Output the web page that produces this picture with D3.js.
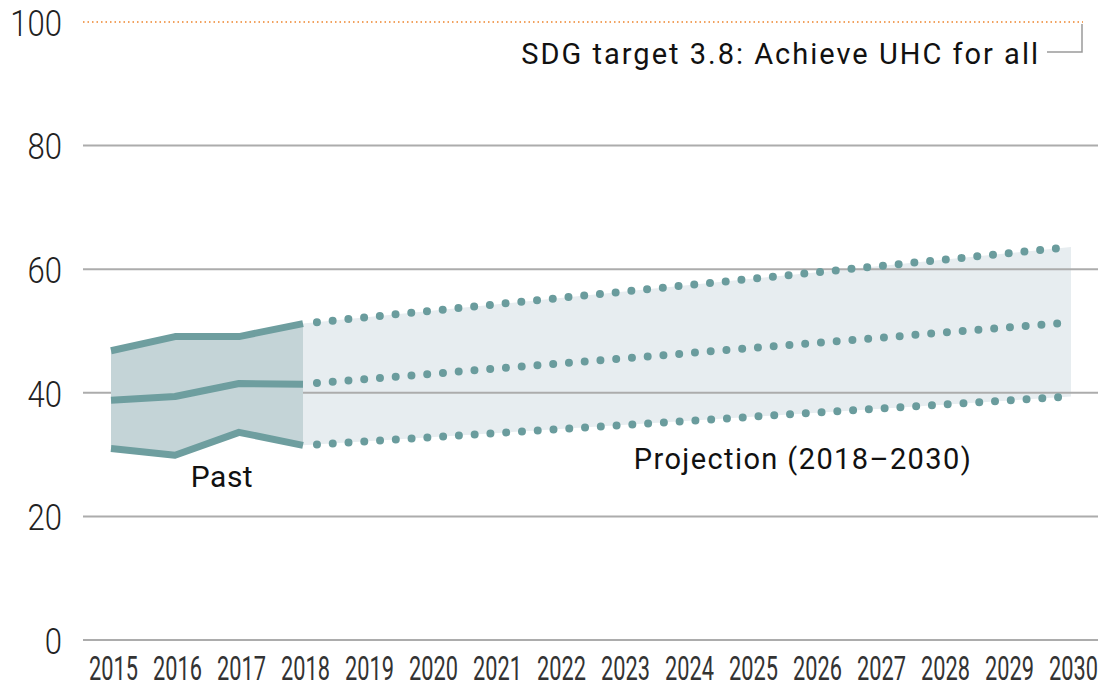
<!DOCTYPE html>
<html>
<head>
<meta charset="utf-8">
<script src="https://cdn.jsdelivr.net/npm/d3@7"></script>
<style>
  body { margin: 0; background: #fff; }
  svg { display: block; font-family: Roboto, "Noto Sans", sans-serif; }
</style>
</head>
<body>
<svg id="graph" width="1098" height="687"></svg>
<script>
// values
var years = [2015, 2016, 2017, 2018, 2019, 2020, 2021, 2022, 2023, 2024, 2025, 2026, 2027, 2028, 2029, 2030];
var yTicks = [0, 20, 40, 60, 80, 100];
var target = 100;

var pastYears = [2015, 2016, 2017, 2018];
var pastUpper = [46.8, 49.1, 49.1, 51.2];
var pastMid = [38.8, 39.4, 41.5, 41.4];
var pastLower = [31.0, 29.9, 33.6, 31.5];

var projYears = [2018, 2030];
var projUpper = [51.2, 63.6];
var projMid = [41.4, 51.4];
var projLower = [31.5, 39.4];

var svg = d3.select("#graph");

var x = d3.scaleLinear().domain([2015, 2030]).range([111, 1071]);
var y = d3.scaleLinear().domain([0, 100]).range([640, 22]);

// projection band (under the grid lines)
var proj = projYears.map(function(d, i) { return {yr: d, lo: projLower[i], hi: projUpper[i]}; });
svg.append("path")
  .datum(proj)
  .attr("d", d3.area()
    .x(function(d) { return x(d.yr); })
    .y0(function(d) { return y(d.lo); })
    .y1(function(d) { return y(d.hi); }))
  .attr("fill", "#e7edf0");

// grid lines
svg.append("g")
  .selectAll("line")
  .data(yTicks.filter(function(d) { return d !== target; }))
  .enter().append("line")
  .attr("x1", 83)
  .attr("x2", 1098)
  .attr("y1", function(d) { return y(d); })
  .attr("y2", function(d) { return y(d); })
  .attr("stroke", "#acacac")
  .attr("stroke-width", 2);

// target line
svg.append("line")
  .attr("x1", 83)
  .attr("x2", 1083)
  .attr("y1", y(target))
  .attr("y2", y(target))
  .attr("stroke", "#f2a25e")
  .attr("stroke-width", 2)
  .attr("stroke-dasharray", "1.5,3");

// bracket from the target line to its label
svg.append("path")
  .attr("d", "M" + 1082 + "," + (y(target) + 2) + "V" + 52 + "H" + 1047)
  .attr("fill", "none")
  .attr("stroke", "#9a9a9a")
  .attr("stroke-width", 1.5);

svg.append("text")
  .attr("x", 1040)
  .attr("y", 64)
  .attr("text-anchor", "end")
  .attr("font-size", "29px")
  .attr("letter-spacing", "2px")
  .attr("fill", "#111")
  .text("SDG target 3.8: Achieve UHC for all");

// past band
var past = pastYears.map(function(d, i) { return {yr: d, lo: pastLower[i], mid: pastMid[i], hi: pastUpper[i]}; });
svg.append("path")
  .datum(past)
  .attr("d", d3.area()
    .x(function(d) { return x(d.yr); })
    .y0(function(d) { return y(d.lo); })
    .y1(function(d) { return y(d.hi); }))
  .attr("fill", "#c4d4d7");

var teal = "#6e9e9f";
[pastUpper, pastMid, pastLower].forEach(function(s) {
  svg.append("path")
    .datum(s)
    .attr("d", d3.line()
      .x(function(d, i) { return x(pastYears[i]); })
      .y(function(d) { return y(d); }))
    .attr("fill", "none")
    .attr("stroke", teal)
    .attr("stroke-width", 7)
    .attr("stroke-linejoin", "round");
});

[projUpper, projMid, projLower].forEach(function(s) {
  svg.append("path")
    .datum(s)
    .attr("d", d3.line()
      .x(function(d, i) { return x(projYears[i]); })
      .y(function(d) { return y(d); }))
    .attr("fill", "none")
    .attr("stroke", "#6a9c9d")
    .attr("stroke-width", 8)
    .attr("stroke-linecap", "round")
    .attr("stroke-dasharray", "0,15.8")
    .attr("stroke-dashoffset", -14);
});

// annotations
svg.append("text")
  .attr("x", 222)
  .attr("y", 487)
  .attr("text-anchor", "middle")
  .attr("font-size", "30px")
  .attr("letter-spacing", "0.5px")
  .attr("fill", "#111")
  .text("Past");

svg.append("text")
  .attr("x", 803)
  .attr("y", 469)
  .attr("text-anchor", "middle")
  .attr("font-size", "29px")
  .attr("letter-spacing", "1.4px")
  .attr("fill", "#111")
  .text("Projection (2018\u20132030)");

// axes
var xAxis = svg.append("g")
  .attr("transform", "translate(2,640)")
  .call(d3.axisBottom(x).tickValues(years).tickFormat(d3.format("d")).tickSize(0).tickPadding(0));
xAxis.select(".domain").remove();
xAxis.selectAll("text")
  .attr("y", 40)
  .attr("dy", 0)
  .attr("font-size", "34px")
  .attr("font-family", "Roboto")
  .attr("fill", "#333")
  .attr("transform", "scale(0.64,1)");

var yAxis = svg.append("g")
  .attr("transform", "translate(62,0)")
  .call(d3.axisLeft(y).tickValues(yTicks).tickSize(0).tickPadding(0));
yAxis.select(".domain").remove();
yAxis.selectAll("text")
  .attr("x", 0)
  .attr("dy", "0.36em")
  .attr("font-size", "37px")
  .attr("font-family", "Roboto")
  .attr("font-weight", 300)
  .attr("fill", "#222")
  .attr("transform", "scale(0.84,1)");
</script>
</body>
</html>
